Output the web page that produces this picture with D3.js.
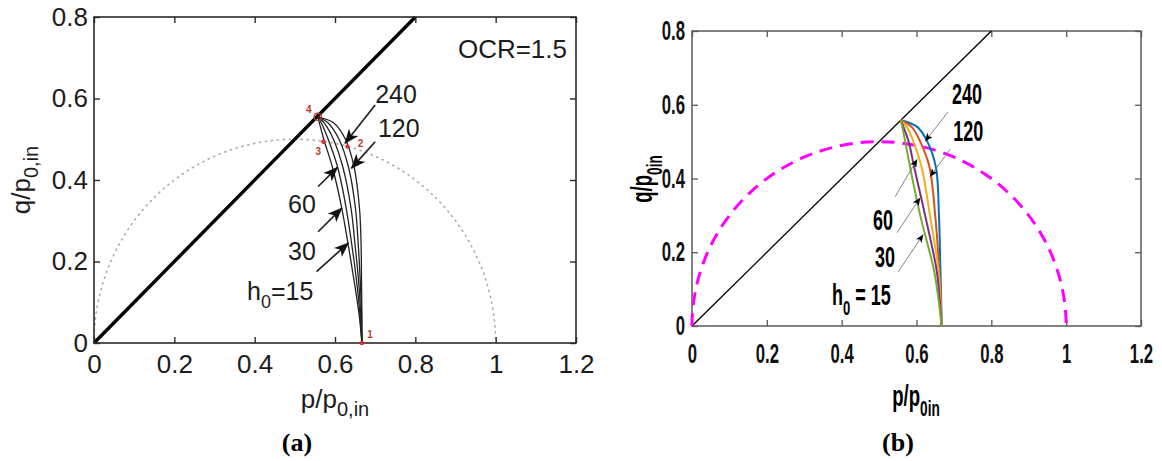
<!DOCTYPE html>
<html>
<head>
<meta charset="utf-8">
<script src="https://cdn.jsdelivr.net/npm/d3@7"></script>
<style>
  body { margin: 0; background: #fff; }
  svg { display: block; }
</style>
</head>
<body>
<svg id="fig" width="1162" height="461"></svg>
<script>
// ---------- shared axis ticks ----------
const xTicks = [0, 0.2, 0.4, 0.6, 0.8, 1, 1.2];
const xTickLabels = ["0", "0.2", "0.4", "0.6", "0.8", "1", "1.2"];
const yTicks = [0, 0.2, 0.4, 0.6, 0.8];
const yTickLabels = ["0", "0.2", "0.4", "0.6", "0.8"];

// ---------- critical state line q = p ----------
const cslP = [0, 0.8];
const cslQ = [0, 0.8];

// ---------- initial yield semicircle ----------
const circleCentreP = 0.5;
const circleRadius = 0.5;

// ---------- stress paths, one per h0 ----------
const h0Labels = ["15", "30", "60", "120", "240"];

// panel (a): p/p0,in along each path at the listed q/p0,in levels
const qLevelsA = [0.555, 0.54, 0.50, 0.43, 0.33, 0.24, 0.15, 0.07, 0];
const pathA15  = [0.557, 0.561, 0.572, 0.594, 0.617, 0.633, 0.648, 0.660, 0.667];
const pathA30  = [0.557, 0.566, 0.583, 0.607, 0.628, 0.642, 0.654, 0.662, 0.667];
const pathA60  = [0.557, 0.573, 0.596, 0.620, 0.640, 0.650, 0.659, 0.664, 0.667];
const pathA120 = [0.557, 0.583, 0.610, 0.634, 0.651, 0.658, 0.663, 0.666, 0.667];
const pathA240 = [0.557, 0.597, 0.626, 0.648, 0.661, 0.665, 0.666, 0.667, 0.667];

// panel (b)
const qLevelsB = [0.558, 0.54, 0.50, 0.43, 0.30, 0.15, 0.07, 0];
const pathB15  = [0.558, 0.562, 0.570, 0.583, 0.610, 0.647, 0.659, 0.667];
const pathB30  = [0.558, 0.565, 0.579, 0.594, 0.623, 0.654, 0.662, 0.667];
const pathB60  = [0.558, 0.574, 0.592, 0.614, 0.636, 0.659, 0.664, 0.667];
const pathB120 = [0.558, 0.587, 0.610, 0.635, 0.650, 0.661, 0.665, 0.667];
const pathB240 = [0.558, 0.602, 0.629, 0.652, 0.660, 0.664, 0.666, 0.667];
const pathColorsB = ["#77AC30", "#7E2F8E", "#EDB120", "#D95319", "#0072BD"];

// ---------- numbered states on panel (a) ----------
const stateLabels = ["1", "2", "3", "4"];
const stateP = [0.667, 0.631, 0.571, 0.557];
const stateQ = [0, 0.482, 0.494, 0.555];

// ---------- h0 annotations: text anchor and arrow tail/tip (p, q) ----------
const labelPosA  = [[0.381, 0.106], [0.483, 0.204], [0.483, 0.319], [0.707, 0.506], [0.700, 0.590]];
const arrowTailA = [[0.554, 0.175], [0.558, 0.273], [0.558, 0.384], [0.700, 0.494], [0.700, 0.584]];
const arrowTipA  = [[0.633, 0.245], [0.617, 0.331], [0.606, 0.431], [0.641, 0.429], [0.625, 0.490]];

const labelPosB  = [[0.374, 0.057], [0.489, 0.161], [0.484, 0.261], [0.698, 0.501], [0.695, 0.601]];
const arrowTailB = [[0.551, 0.147], [0.548, 0.253], [0.543, 0.351], [0.690, 0.479], [0.684, 0.580]];
const arrowTipB  = [[0.618, 0.248], [0.610, 0.348], [0.602, 0.452], [0.636, 0.405], [0.623, 0.501]];

// ======================================================================
const svg = d3.select("#fig");
svg.append("rect").attr("width", 1162).attr("height", 461).attr("fill", "#fff");

const defs = svg.append("defs");
defs.append("marker")
  .attr("id", "headA").attr("markerUnits", "userSpaceOnUse")
  .attr("markerWidth", 16).attr("markerHeight", 12)
  .attr("refX", 14).attr("refY", 6).attr("orient", "auto")
  .append("path").attr("d", "M0,0 L15,6 L0,12 L4,6 Z").attr("fill", "#111");
defs.append("marker")
  .attr("id", "headB").attr("markerUnits", "userSpaceOnUse")
  .attr("markerWidth", 9).attr("markerHeight", 7)
  .attr("refX", 8).attr("refY", 3.5).attr("orient", "auto")
  .append("path").attr("d", "M0,0 L8,3.5 L0,7 L2,3.5 Z").attr("fill", "#000");

// text with a subscript part; sx squeezes glyphs horizontally
function subLabel(g, o) {
  const grp = g.append("g")
    .attr("transform", `translate(${o.x},${o.y}) rotate(${o.rotate || 0}) scale(${o.sx || 1},1)`);
  const t = grp.append("text")
    .attr("text-anchor", o.anchor || "start")
    .attr("font-family", o.family)
    .attr("font-weight", o.weight || "normal")
    .attr("font-size", o.size)
    .attr("fill", o.fill || "#000");
  o.parts.forEach(([txt, kind]) => {
    const ts = t.append("tspan").text(txt);
    if (kind === "sub") ts.attr("font-size", o.subSize).attr("dy", o.subDy);
    if (kind === "back") ts.attr("dy", -o.subDy);
  });
  return grp;
}

function drawFrame(g, x, y, st) {
  const [x0, x1] = x.range();
  const [y0, y1] = y.range();
  const fmtX = (d, i) => xTickLabels[i];
  const fmtY = (d, i) => yTickLabels[i];

  const bottom = g.append("g").attr("transform", `translate(0,${y0})`)
    .call(d3.axisBottom(x).tickValues(xTicks).tickFormat(fmtX)
      .tickSize(-st.tick).tickSizeOuter(0).tickPadding(st.xPad));
  const left = g.append("g").attr("transform", `translate(${x0},0)`)
    .call(d3.axisLeft(y).tickValues(yTicks).tickFormat(fmtY)
      .tickSize(-st.tick).tickSizeOuter(0).tickPadding(st.yPad));
  const top = g.append("g").attr("transform", `translate(0,${y1})`)
    .call(d3.axisTop(x).tickValues(xTicks).tickFormat("").tickSize(-st.tick).tickSizeOuter(0));
  const right = g.append("g").attr("transform", `translate(${x1},0)`)
    .call(d3.axisRight(y).tickValues(yTicks).tickFormat("").tickSize(-st.tick).tickSizeOuter(0));

  [bottom, left, top, right].forEach(a => {
    a.select(".domain").remove();
    a.selectAll(".tick line").attr("stroke", st.stroke).attr("stroke-width", st.tickWidth);
    a.selectAll(".tick text")
      .attr("font-family", st.family).attr("font-weight", st.weight)
      .attr("font-size", st.size).attr("fill", st.textFill);
  });
  if (st.sx !== 1) {
    bottom.selectAll(".tick text").attr("transform", `scale(${st.sx},1)`);
    left.selectAll(".tick text")
      .attr("x", 0)
      .attr("transform", `translate(${-st.yPad},0) scale(${st.sx},1)`);
  }
  g.append("rect")
    .attr("x", x0).attr("y", y1).attr("width", x1 - x0).attr("height", y0 - y1)
    .attr("fill", "none").attr("stroke", st.stroke).attr("stroke-width", st.frameWidth);
}

function arcPath(x, y) {
  const rx = x(circleCentreP + circleRadius) - x(circleCentreP);
  const ry = y(0) - y(circleRadius);
  return `M${x(circleCentreP - circleRadius)},${y(0)} A${rx},${ry} 0 0 1 ${x(circleCentreP + circleRadius)},${y(0)}`;
}

// ======================= panel (a) =======================
{
  const x = d3.scaleLinear().domain([0, 1.2]).range([94, 576]);
  const y = d3.scaleLinear().domain([0, 0.8]).range([343, 17]);
  const g = svg.append("g");
  const FONT = "'Liberation Sans', Arial, Helvetica, sans-serif";
  const INK = "#1c1c1c";

  // yield semicircle, dotted
  g.append("path").attr("d", arcPath(x, y))
    .attr("fill", "none").attr("stroke", "#ababab").attr("stroke-width", 1.6)
    .attr("stroke-dasharray", "1.2,4.8").attr("stroke-linecap", "round");

  // critical state line
  g.append("line")
    .attr("x1", x(cslP[0])).attr("y1", y(cslQ[0]))
    .attr("x2", x(cslP[1])).attr("y2", y(cslQ[1]))
    .attr("stroke", "#000").attr("stroke-width", 3.4);

  // stress paths
  const line = d3.line().x(d => x(d[0])).y(d => y(d[1])).curve(d3.curveCatmullRom.alpha(0.5));
  [pathA15, pathA30, pathA60, pathA120, pathA240].forEach(ps => {
    g.append("path").attr("d", line(ps.map((p, i) => [p, qLevelsA[i]])))
      .attr("fill", "none").attr("stroke", "#222").attr("stroke-width", 1.3);
  });

  drawFrame(g, x, y, {
    tick: 6, xPad: 12, yPad: 6, stroke: "#2a2a2a", tickWidth: 1.4, frameWidth: 1.6,
    family: FONT, weight: "normal", size: 26, textFill: INK, sx: 1
  });

  // numbered states
  const offs = [[8, -5], [13, 0], [-5, 13], [-9, -4]];
  stateLabels.forEach((lab, i) => {
    const cx = x(stateP[i]), cy = y(stateQ[i]);
    if (i === 3) {
      g.append("circle").attr("cx", cx).attr("cy", cy).attr("r", 3.6)
        .attr("fill", "none").attr("stroke", "#c0392b").attr("stroke-width", 1.3);
    } else {
      g.append("circle").attr("cx", cx).attr("cy", cy).attr("r", 2.2).attr("fill", "#d0312d");
    }
    g.append("text").attr("x", cx + offs[i][0]).attr("y", cy + offs[i][1])
      .attr("text-anchor", "middle").attr("font-family", FONT).attr("font-size", 10)
      .attr("font-weight", "bold").attr("fill", "#c0392b").text(lab);
  });

  // h0 arrows
  arrowTailA.forEach((t, i) => {
    g.append("line")
      .attr("x1", x(t[0])).attr("y1", y(t[1]))
      .attr("x2", x(arrowTipA[i][0])).attr("y2", y(arrowTipA[i][1]))
      .attr("stroke", "#222").attr("stroke-width", 1.7)
      .attr("marker-end", "url(#headA)");
  });
  // h0 labels
  h0Labels.forEach((lab, i) => {
    const [p, q] = labelPosA[i];
    if (i === 0) {
      subLabel(g, { x: x(p), y: y(q), family: FONT, size: 25, subSize: 18, subDy: 8, fill: INK,
        parts: [["h"], ["0", "sub"], ["=15", "back"]] });
    } else {
      g.append("text").attr("x", x(p)).attr("y", y(q))
        .attr("font-family", FONT).attr("font-size", 25).attr("fill", INK).text(lab);
    }
  });

  g.append("text").attr("x", x(0.906)).attr("y", y(0.70))
    .attr("font-family", FONT).attr("font-size", 26).attr("fill", INK).text("OCR=1.5");

  // axis titles
  subLabel(g, { x: 335, y: 408, anchor: "middle", family: FONT, size: 26, subSize: 20, subDy: 8, fill: INK,
    parts: [["p/p"], ["0,in", "sub"]] });
  subLabel(g, { x: 30, y: 180, rotate: -90, anchor: "middle", family: FONT, size: 26, subSize: 20, subDy: 8, fill: INK,
    parts: [["q/p"], ["0,in", "sub"]] });

  g.append("text").attr("x", 297).attr("y", 451).attr("text-anchor", "middle")
    .attr("font-family", "'Liberation Serif', 'Times New Roman', serif")
    .attr("font-weight", "bold").attr("font-size", 26).text("(a)");
}

// ======================= panel (b) =======================
{
  const x = d3.scaleLinear().domain([0, 1.2]).range([692, 1141]);
  const y = d3.scaleLinear().domain([0, 0.8]).range([326, 31]);
  const g = svg.append("g");
  const FONT = "'Liberation Sans', Arial, Helvetica, sans-serif";
  const SX = 0.62;

  drawFrame(g, x, y, {
    tick: 6, xPad: 18, yPad: 7, stroke: "#5a5a5a", tickWidth: 1.3, frameWidth: 1.5,
    family: FONT, weight: "bold", size: 27, textFill: "#111", sx: SX
  });

  // critical state line
  g.append("line")
    .attr("x1", x(cslP[0])).attr("y1", y(cslQ[0]))
    .attr("x2", x(cslP[1])).attr("y2", y(cslQ[1]))
    .attr("stroke", "#000").attr("stroke-width", 1.3);

  // yield semicircle, dashed magenta
  g.append("path").attr("d", arcPath(x, y))
    .attr("fill", "none").attr("stroke", "#ff00ff").attr("stroke-width", 3)
    .attr("stroke-dasharray", "13,8");

  const line = d3.line().x(d => x(d[0])).y(d => y(d[1])).curve(d3.curveCatmullRom.alpha(0.5));
  [pathB240, pathB120, pathB60, pathB30, pathB15].forEach((ps, k) => {
    g.append("path").attr("d", line(ps.map((p, i) => [p, qLevelsB[i]])))
      .attr("fill", "none").attr("stroke", pathColorsB[4 - k]).attr("stroke-width", 2);
  });

  arrowTailB.forEach((t, i) => {
    g.append("line")
      .attr("x1", x(t[0])).attr("y1", y(t[1]))
      .attr("x2", x(arrowTipB[i][0])).attr("y2", y(arrowTipB[i][1]))
      .attr("stroke", "#777").attr("stroke-width", 0.9)
      .attr("marker-end", "url(#headB)");
  });

  h0Labels.forEach((lab, i) => {
    const [p, q] = labelPosB[i];
    if (i === 0) {
      subLabel(g, { x: x(p), y: y(q), family: FONT, weight: "bold", size: 29, subSize: 21, subDy: 10,
        sx: SX, parts: [["h"], ["0", "sub"], [" = 15", "back"]] });
    } else {
      subLabel(g, { x: x(p), y: y(q), family: FONT, weight: "bold", size: 29, sx: SX, parts: [[lab]] });
    }
  });

  subLabel(g, { x: 916, y: 406, anchor: "middle", family: FONT, weight: "bold", size: 30, subSize: 22, subDy: 10,
    sx: SX, parts: [["p/p"], ["0in", "sub"]] });
  subLabel(g, { x: 652, y: 179, rotate: -90, anchor: "middle", family: FONT, weight: "bold", size: 30, subSize: 22, subDy: 10,
    sx: SX, parts: [["q/p"], ["0in", "sub"]] });

  g.append("text").attr("x", 898).attr("y", 451).attr("text-anchor", "middle")
    .attr("font-family", "'Liberation Serif', 'Times New Roman', serif")
    .attr("font-weight", "bold").attr("font-size", 26).text("(b)");
}
</script>
</body>
</html>
